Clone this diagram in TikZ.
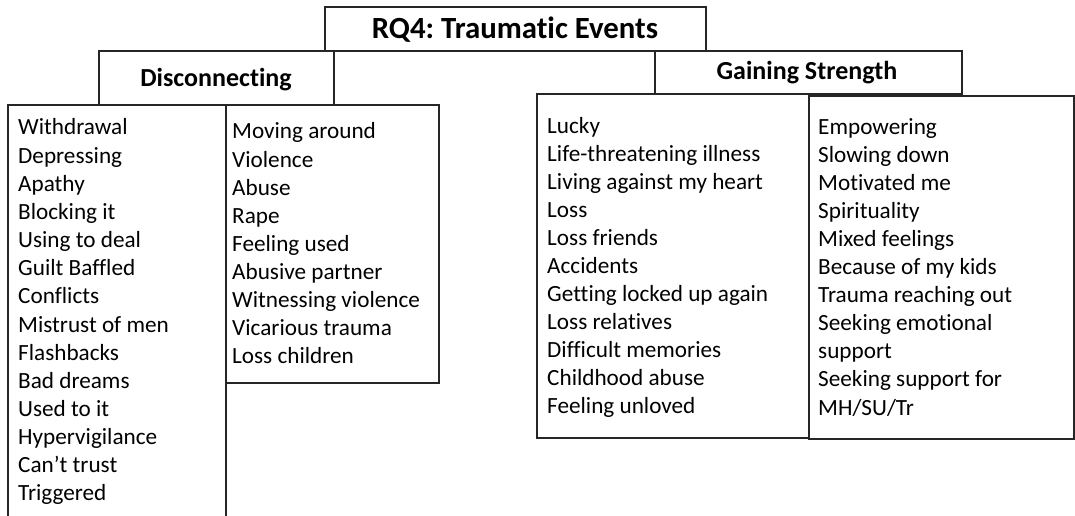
\documentclass[tikz,border=0pt]{standalone}
\usepackage{fontspec}
\setmainfont[RawFeature={-liga;-clig;-dlig}]{Carlito}
\frenchspacing
\begin{document}
\begin{tikzpicture}[x=1pt,y=-1pt,
  frame/.style={draw=black!85,line width=1.5pt,inner sep=0pt,outer sep=0pt,anchor=north west},
  item/.style={anchor=base west,inner sep=0pt,font=\fontsize{23.2}{28}\selectfont},
  headA/.style={anchor=base,inner sep=0pt,font=\fontsize{30.8}{36}\selectfont\bfseries},
  headB/.style={anchor=base,inner sep=0pt,font=\fontsize{26}{32}\selectfont\bfseries}]
\useasboundingbox (0,0) rectangle (1075,516);
\clip (0,0) rectangle (1075,516);
% boxes
\node[frame,minimum width=381pt,minimum height=44pt] (tbox) at (325,7) {};
\node[frame,minimum width=235pt,minimum height=54pt] (dbox) at (99,51) {};
\node[frame,minimum width=218pt,minimum height=420pt] (l1box) at (8,105) {};
\node[frame,minimum width=213pt,minimum height=278pt] (l2box) at (226,105) {};
\node[frame,minimum width=307pt,minimum height=43pt] (gbox) at (655,51) {};
\node[frame,minimum width=272pt,minimum height=344pt] (g1box) at (537,94) {};
\node[frame,minimum width=265pt,minimum height=343pt] (g2box) at (809,96) {};
% headers
\node[headA] (ttext) at (515,39) {RQ4: Traumatic Events};
\node[headB] (dtext) at (216,87) {Disconnecting};
\node[headB] (gtext) at (807,80) {Gaining Strength};
% lists
\foreach \t [count=\i] in {Withdrawal,Depressing,Apathy,Blocking it,Using to deal,Guilt Baffled,Conflicts,Mistrust of men,Flashbacks,Bad dreams,Used to it,Hypervigilance,Can’t trust,Triggered}
  \node[item] (la-\i) at (18,{135+28.15*(\i-1)}) {\t};
\foreach \t [count=\i] in {Moving around,Violence,Abuse,Rape,Feeling used,Abusive partner,Witnessing violence,Vicarious trauma,Loss children}
  \node[item] (lb-\i) at (232,{139+28*(\i-1)}) {\t};
\foreach \t [count=\i] in {Lucky,Life-threatening illness,Living against my heart,Loss,Loss friends,Accidents,Getting locked up again,Loss relatives,Difficult memories,Childhood abuse,Feeling unloved}
  \node[item] (ga-\i) at (547,{133+28*(\i-1)}) {\t};
\foreach \t [count=\i] in {Empowering,Slowing down,Motivated me,Spirituality,Mixed feelings,Because of my kids,Trauma reaching out,Seeking emotional,support,Seeking support for,MH/SU/Tr}
  \node[item] (gb-\i) at (818,{134+28.1*(\i-1)}) {\t};
\end{tikzpicture}
\end{document}
